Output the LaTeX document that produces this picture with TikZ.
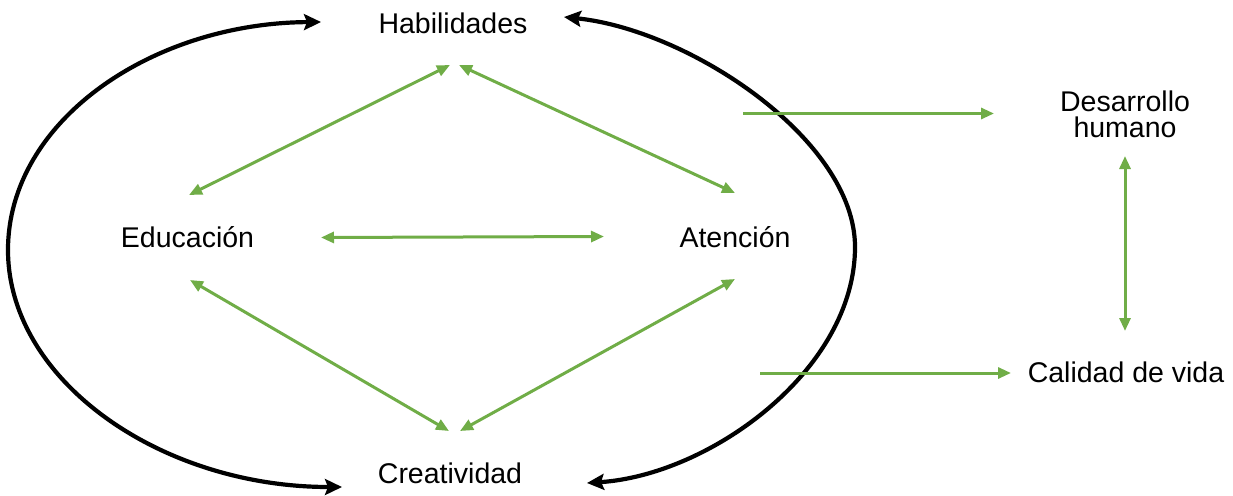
\documentclass[tikz,border=0pt]{standalone}
\usepackage{fontspec}
\setmainfont{Liberation Sans}
\usetikzlibrary{arrows.meta}
\definecolor{lgreen}{RGB}{112,173,71}
\tikzset{
  lbl/.style={anchor=base,inner sep=0pt,font=\fontsize{28.5}{26}\selectfont,text=black},
  garrow/.style={draw=lgreen,line width=3pt,{Triangle[length=13pt,width=11pt]}-{Triangle[length=13pt,width=11pt]}},
  gsingle/.style={draw=lgreen,line width=3pt,-{Triangle[length=13pt,width=11pt]}},
  barrow/.style={draw=black,line width=4.2pt,{Stealth[length=17pt,width=16pt,inset=3pt]}-{Stealth[length=17pt,width=16pt,inset=3pt]}}
}
\begin{document}
\begin{tikzpicture}[x=1pt,y=-1pt]
\useasboundingbox (0,0) rectangle (1233,495);
% nodes
\node[lbl] (hab) at (453,34) {Habilidades};
\node[lbl] (edu) at (187.5,247) {Educación};
\node[lbl] (ate) at (735,247) {Atención};
\node[lbl] (cre) at (450,483) {Creatividad};
\node[lbl,align=center] (des) at (1125,137) {Desarrollo\\humano};
\node[lbl] (cal) at (1126,382) {Calidad de vida};
% connector ends
\coordinate (habL) at (450,65);
\coordinate (habR) at (459,65);
\coordinate (eduN) at (189,195);
\coordinate (eduE) at (321,237.5);
\coordinate (eduS) at (190,280);
\coordinate (ateN) at (735,193);
\coordinate (ateW) at (604,236.5);
\coordinate (ateS) at (735,279);
\coordinate (creL) at (449,431);
\coordinate (creR) at (460,431);
\coordinate (desS) at (1125,156);
\coordinate (calN) at (1125,331);
\coordinate (desW) at (994,113.5);
\coordinate (calW) at (1011,373);
\coordinate (src1) at (743,113.5);
\coordinate (src2) at (760,373);
\coordinate (lt) at (321,22);
\coordinate (lb) at (342,487);
\coordinate (rt) at (564,17);
\coordinate (rb) at (587,483);
% black loops
\draw[barrow] (lt) .. controls (152,23) and (8,121) .. (8,250) .. controls (8,380) and (160,487) .. (lb);
\draw[barrow] (rt) .. controls (690,30) and (855,140) .. (855,247) .. controls (855,370) and (710,475) .. (rb);
% green arrows
\draw[garrow] (eduN) -- (habL);
\draw[garrow] (habR) -- (ateN);
\draw[garrow] (eduE) -- (ateW);
\draw[garrow] (eduS) -- (creL);
\draw[garrow] (ateS) -- (creR);
\draw[garrow] (desS) -- (calN);
\draw[gsingle] (src1) -- (desW);
\draw[gsingle] (src2) -- (calW);
\end{tikzpicture}
\end{document}
